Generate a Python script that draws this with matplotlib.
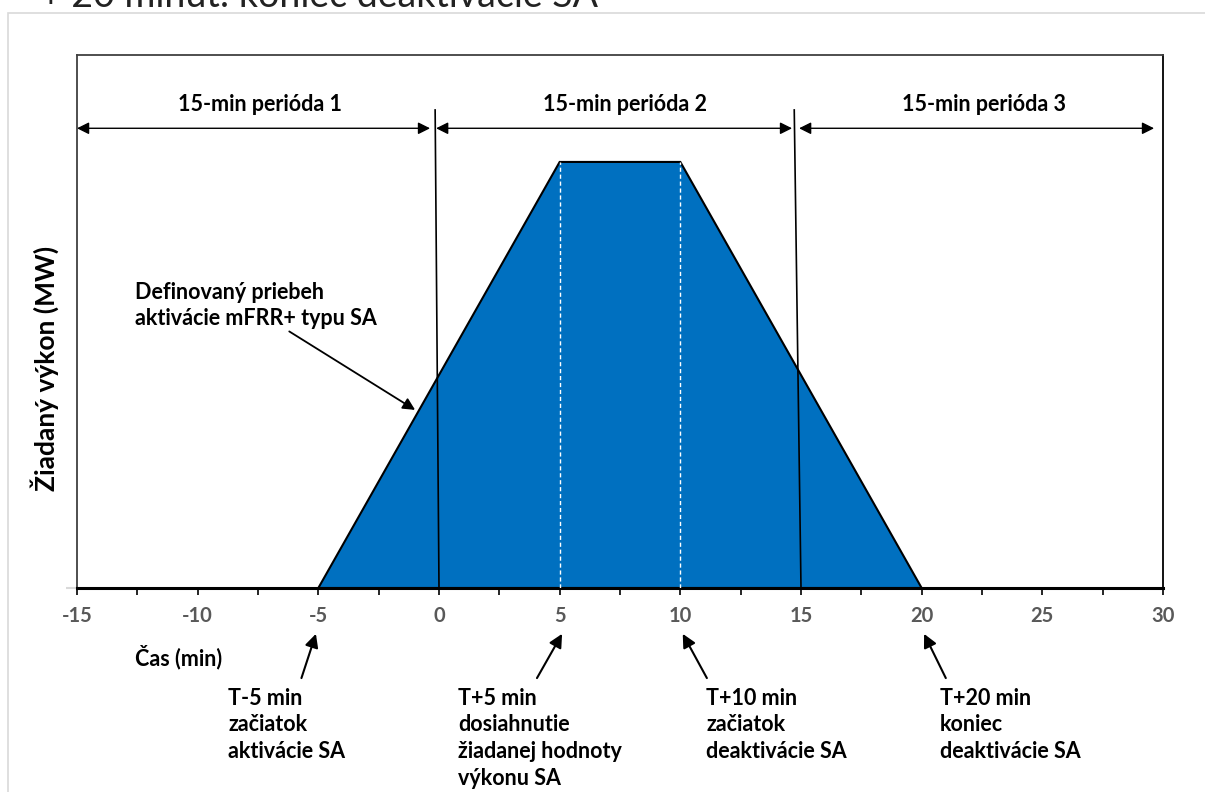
import matplotlib
matplotlib.use("Agg")
import matplotlib.pyplot as plt
from matplotlib.patches import Rectangle

plt.rcParams['font.family'] = ['Lato', 'DejaVu Sans']

# trapezoid of the SA activation
profile_x = [-5, 5, 10, 20]
profile_y = [0, 1, 1, 0]
plateau_marks = [5, 10]

# 15-min period boundaries (slightly tilted as in the drawing)
bound_top_x = [-0.16, 14.72]
bound_bot_x = [0.0, 15.0]
bound_top_y = 1.122

periods = ['15-min perióda 1', '15-min perióda 2', '15-min perióda 3']
period_from = [-15.0, -0.12, 14.92]
period_to = [-0.37, 14.63, 29.63]
period_label_x = [-7.4, 7.7, 22.6]

xticks = [-15, -10, -5, 0, 5, 10, 15, 20, 25, 30]

events = ['T-5 min\nzačiatok\naktivácie SA',
          'T+5 min\ndosiahnutie\nžiadanej hodnoty\nvýkonu SA',
          'T+10 min\nzačiatok\ndeaktivácie SA',
          'T+20 min\nkoniec\ndeaktivácie SA']
event_tip = [-5.1, 5.1, 10.1, 20.1]
event_tail = [-5.7, 4.06, 11.1, 21.0]
event_text_x = [-8.74, 0.79, 11.07, 20.76]

W, H = 1205, 792
fig = plt.figure(figsize=(W / 100, H / 100), dpi=100)

# light frame of the surrounding slide, cut off at right and bottom
fig.patches.append(Rectangle((8 / W, -0.2), 1.2, 1.2 - 13 / H, transform=fig.transFigure,
                             fill=False, edgecolor='#d9d9d9', lw=1.2))
fig.text(40 / W, 1 - 7 / H, '+ 20 minút: koniec deaktivácie SA', fontsize=27,
         color='#222222', va='baseline', ha='left')

ax = fig.add_axes([77 / W, 1 - 588 / H, (1163 - 77) / W, (588 - 55) / H])
ax.set_xlim(-15, 30)
ax.set_ylim(0, 1.251)

ax.fill(profile_x, profile_y, facecolor='#0070C0', edgecolor='black', lw=1.5, zorder=2)
for xm in plateau_marks:
    ax.plot([xm, xm], [0, 1], color='white', lw=1, ls=(0, (3, 2)), zorder=3)

for xt, xb in zip(bound_top_x, bound_bot_x):
    ax.plot([xt, xb], [bound_top_y, 0.0], color='black', lw=1.2, zorder=4)

arrow_y = 1.079
for name, a, b, lx in zip(periods, period_from, period_to, period_label_x):
    ax.annotate('', xy=(b, arrow_y), xytext=(a, arrow_y),
                arrowprops=dict(arrowstyle='<|-|>', color='black', lw=1.0,
                                mutation_scale=18, shrinkA=0, shrinkB=0))
    ax.text(lx, 1.134, name, ha='center', va='center', fontsize=15.5, fontweight='bold')

ax.annotate('Definovaný priebeh\naktivácie mFRR+ typu SA', xy=(-0.99, 0.418),
            xytext=(-12.6, 0.664), fontsize=15.5, fontweight='bold', va='center', ha='left',
            linespacing=1.3,
            arrowprops=dict(arrowstyle='-|>', color='black', lw=1.3, mutation_scale=18,
                            shrinkA=0, shrinkB=0, relpos=(0.62, 0.0)))

trans = ax.get_xaxis_transform()
for txt, tip, tail, tx in zip(events, event_tip, event_tail, event_text_x):
    ax.annotate('', xy=(tip, -0.086), xytext=(tail, -0.169), xycoords=trans,
                textcoords=trans, annotation_clip=False,
                arrowprops=dict(arrowstyle='-|>', color='black', lw=1.5,
                                mutation_scale=20, shrinkA=0, shrinkB=0))
    ax.text(tx, -0.187, txt, transform=trans, ha='left', va='top', fontsize=15.5,
            fontweight='bold', linespacing=1.33, clip_on=False)

ax.text(-12.6, -0.13, 'Čas (min)', transform=trans, ha='left', va='center',
        fontsize=15.5, fontweight='bold', clip_on=False)
fig.text(45 / W, 1 - 368 / H, 'Žiadaný výkon (MW)', rotation=90, ha='center', va='center',
         fontsize=19, fontweight='bold')

ax.set_xticks(xticks)
ax.set_xticks([v + 2.5 for v in xticks[:-1]], minor=True)
ax.set_xticklabels([str(v) for v in xticks], fontsize=14.5, fontweight='bold', color='#595959')
ax.tick_params(axis='x', which='both', direction='out', length=5, width=1.2, color='black', pad=8)
ax.set_yticks([0])
ax.set_yticklabels([''])
ax.tick_params(axis='y', length=8, color='#d9d9d9', width=1.5)

ax.spines['bottom'].set_linewidth(2.2)
ax.spines['bottom'].set_color('black')
ax.spines['left'].set_color('#404040')
ax.spines['top'].set_color('#404040')
ax.spines['right'].set_color('black')
for s in ['left', 'top', 'right']:
    ax.spines[s].set_linewidth(1.3)

fig.savefig('out.png', dpi=100)
